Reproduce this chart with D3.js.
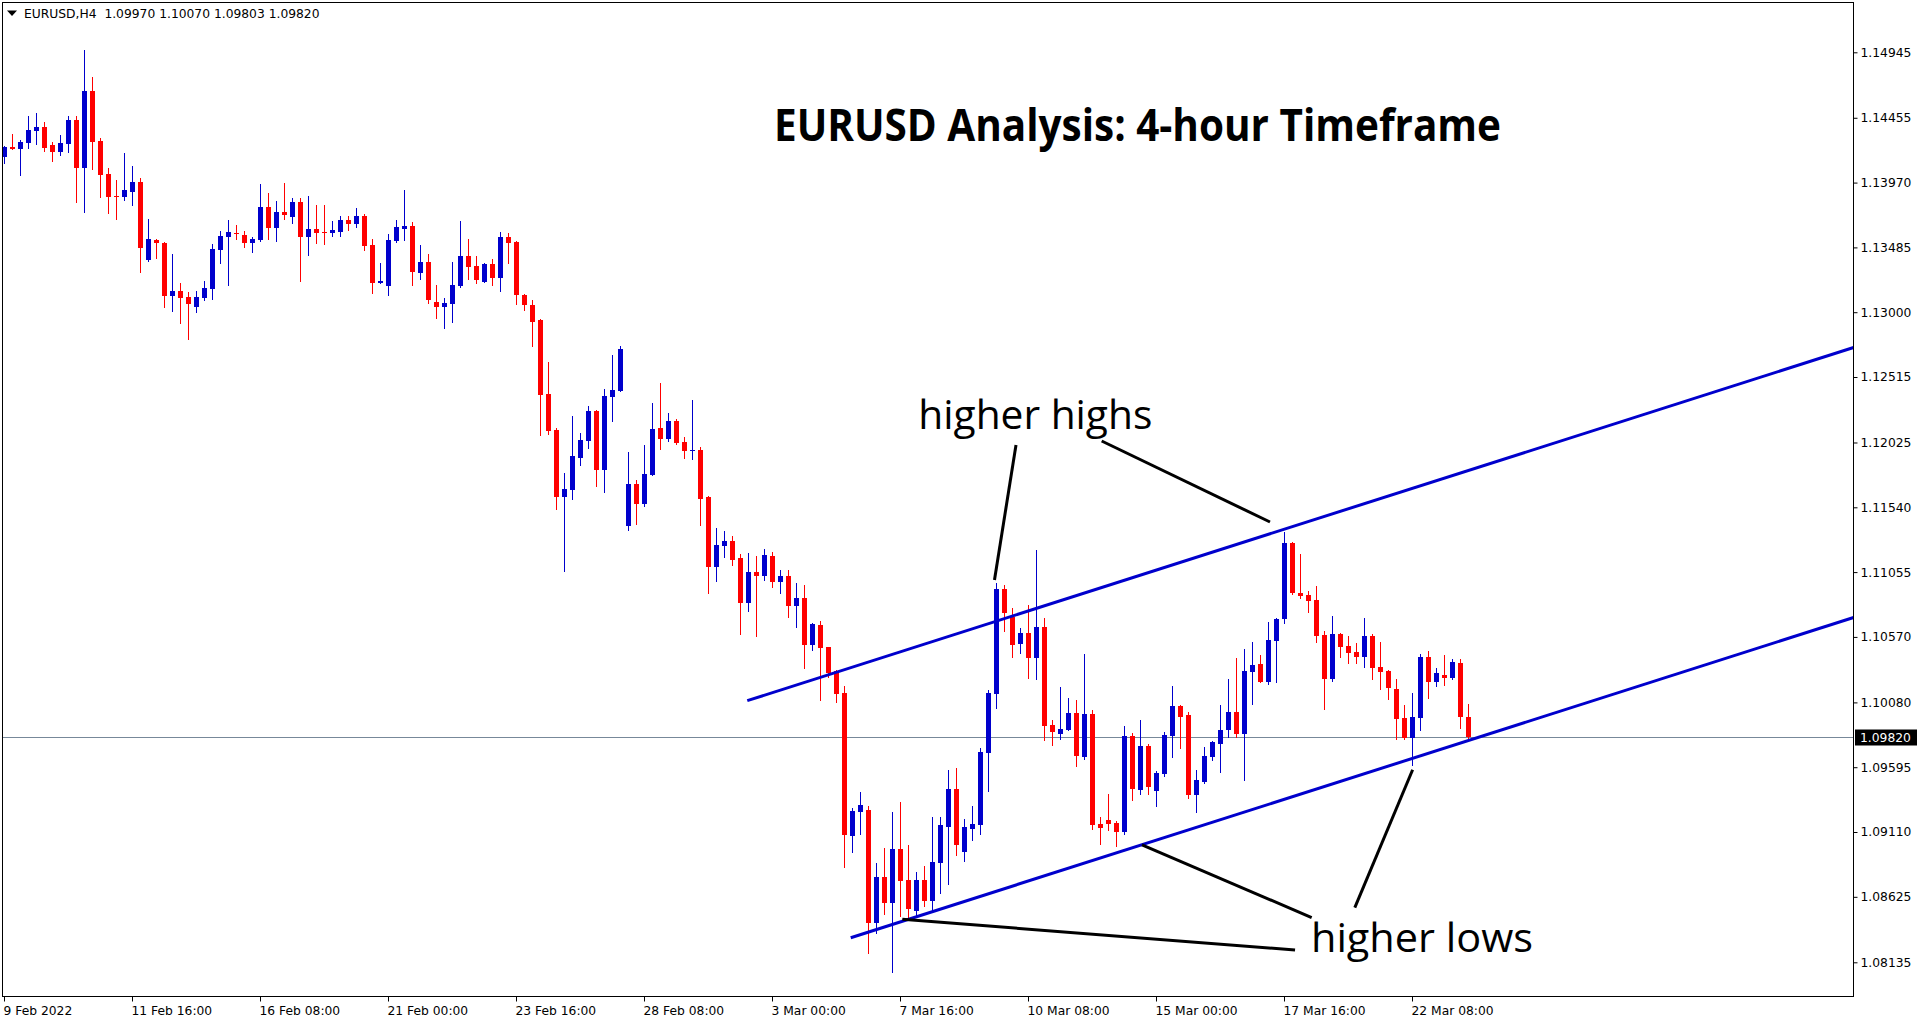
<!DOCTYPE html>
<html><head><meta charset="utf-8">
<script src="https://cdn.jsdelivr.net/npm/d3@7"></script>
<style>html,body{margin:0;padding:0;background:#fff;overflow:hidden}</style>
</head><body>
<svg id="chart" width="1925" height="1023"></svg>
<script>
// ---------- DATA ----------
const symbol = "EURUSD,H4";
const chartTitle = "EURUSD Analysis: 4-hour Timeframe";

const opens = [
1.14159,1.14236,1.14224,1.14269,1.14358,1.14386,1.14251,1.14201,1.14261,1.14438,
1.14081,1.14655,1.14281,1.14034,1.13870,1.13864,1.13902,1.13974,1.13393,1.13540,
1.13520,1.13124,1.13159,1.13114,1.13041,1.13109,1.13176,1.13468,1.13565,1.13593,
1.13578,1.13520,1.13540,1.13787,1.13632,1.13750,1.13715,1.13825,1.13565,1.13623,
1.13600,1.13595,1.13603,1.13690,1.13662,1.13720,1.13503,1.13221,1.13198,1.13533,
1.13625,1.13645,1.13296,1.13376,1.13076,1.13041,1.13064,1.13198,1.13421,1.13346,
1.13228,1.13361,1.13258,1.13563,1.13525,1.13129,1.13054,1.12942,1.12388,1.12118,
1.11619,1.11672,1.11911,1.12038,1.12261,1.11821,1.12368,1.12413,1.11402,1.11714,
1.11567,1.11784,1.12133,1.12053,1.12186,1.12029,1.11964,1.11969,1.11619,1.11096,
1.11253,1.11288,1.11161,1.10826,1.11056,1.11028,1.11176,1.10981,1.11026,1.10804,
1.10861,1.10512,1.10659,1.10495,1.10315,1.10150,1.09082,1.09262,1.09275,1.08431,
1.08773,1.08581,1.08983,1.08751,1.08521,1.08751,1.08596,1.08880,1.09150,1.09432,
1.08963,1.09135,1.09165,1.09704,1.10145,1.10929,1.10721,1.10519,1.10599,1.10414,
1.10644,1.09911,1.09846,1.09876,1.10001,1.09674,1.09993,1.09170,1.09200,1.09177,
1.09112,1.09829,1.09427,1.09754,1.09419,1.09546,1.09831,1.10053,1.09986,1.09389,
1.09487,1.09674,1.09771,1.09876,1.10008,1.09846,1.10310,1.10367,1.10235,1.10542,
1.10704,1.11273,1.10899,1.10884,1.10846,1.10584,1.10257,1.10592,1.10502,1.10457,
1.10422,1.10577,1.10347,1.10315,1.10180,1.09963,1.09816,1.09965,1.10420,1.10235,
1.10285,1.10265,1.10375,1.09970];

const highs = [
1.14244,1.14334,1.14289,1.14468,1.14491,1.14423,1.14274,1.14326,1.14468,1.14468,
1.14962,1.14760,1.14304,1.14079,1.13989,1.14191,1.14094,1.14004,1.13698,1.13548,
1.13528,1.13436,1.13219,1.13151,1.13159,1.13234,1.13510,1.13608,1.13690,1.13653,
1.13608,1.13563,1.13959,1.13892,1.13832,1.13967,1.13855,1.13855,1.13870,1.13802,
1.13802,1.13683,1.13720,1.13720,1.13780,1.13735,1.13548,1.13368,1.13585,1.13690,
1.13915,1.13675,1.13503,1.13436,1.13204,1.13106,1.13376,1.13683,1.13548,1.13421,
1.13368,1.13398,1.13600,1.13593,1.13530,1.13136,1.13091,1.12949,1.12627,1.12133,
1.11797,1.12223,1.12096,1.12298,1.12265,1.12425,1.12680,1.12747,1.11954,1.11744,
1.12006,1.12321,1.12470,1.12246,1.12201,1.12066,1.12343,1.11991,1.11627,1.11385,
1.11363,1.11325,1.11191,1.11198,1.11176,1.11228,1.11206,1.11071,1.11071,1.10974,
1.10959,1.10674,1.10689,1.10497,1.10322,1.10203,1.09290,1.09409,1.09305,1.08878,
1.08990,1.09260,1.09335,1.09013,1.08811,1.08856,1.09222,1.09222,1.09574,1.09589,
1.09207,1.09305,1.09739,1.10173,1.10970,1.10959,1.10786,1.10639,1.10809,1.11221,
1.10712,1.09948,1.10197,1.10113,1.10098,1.10442,1.10023,1.09222,1.09395,1.09192,
1.09903,1.09851,1.09948,1.09769,1.09567,1.09859,1.10203,1.10058,1.10008,1.09574,
1.09746,1.09791,1.10061,1.10255,1.10412,1.10480,1.10532,1.10435,1.10682,1.10712,
1.11355,1.11280,1.11191,1.10914,1.10951,1.10614,1.10727,1.10599,1.10577,1.10524,
1.10712,1.10592,1.10532,1.10322,1.10255,1.10061,1.10150,1.10442,1.10465,1.10337,
1.10435,1.10405,1.10405,1.10070];

const lows = [
1.14119,1.14224,1.14027,1.14231,1.14261,1.14206,1.14134,1.14179,1.14201,1.13827,
1.13752,1.14074,1.13864,1.13745,1.13700,1.13840,1.13805,1.13303,1.13385,1.13408,
1.13041,1.13011,1.12921,1.12802,1.13004,1.13094,1.13101,1.13370,1.13206,1.13550,
1.13490,1.13453,1.13533,1.13548,1.13533,1.13698,1.13670,1.13236,1.13428,1.13520,
1.13510,1.13573,1.13573,1.13615,1.13640,1.13466,1.13146,1.13221,1.13129,1.13525,
1.13540,1.13204,1.13249,1.13071,1.12959,1.12884,1.12929,1.13191,1.13251,1.13221,
1.13228,1.13206,1.13161,1.13370,1.13064,1.13019,1.12749,1.12083,1.12091,1.11530,
1.11066,1.11604,1.11859,1.11986,1.11702,1.11657,1.12188,1.12413,1.11372,1.11417,
1.11552,1.11784,1.11979,1.12038,1.12016,1.11911,1.11904,1.11410,1.10901,1.10991,
1.11170,1.11111,1.10594,1.10766,1.10579,1.10999,1.10946,1.10901,1.10721,1.10647,
1.10340,1.10474,1.10100,1.10272,1.10085,1.08850,1.08963,1.09097,1.08207,1.08357,
1.08499,1.08065,1.08484,1.08461,1.08491,1.08559,1.08521,1.08656,1.08723,1.08940,
1.08895,1.09053,1.09097,1.09419,1.10040,1.10617,1.10422,1.10452,1.10265,1.10257,
1.09801,1.09763,1.09808,1.09870,1.09606,1.09659,1.09135,1.09023,1.09127,1.09008,
1.09097,1.09352,1.09397,1.09397,1.09307,1.09531,1.09674,1.09741,1.09367,1.09262,
1.09479,1.09651,1.09561,1.09823,1.09823,1.09502,1.10070,1.10230,1.10220,1.10235,
1.10676,1.10893,1.10864,1.10759,1.10534,1.10033,1.10242,1.10422,1.10377,1.10377,
1.10347,1.10257,1.10182,1.10108,1.09808,1.09808,1.09612,1.09876,1.10115,1.10205,
1.10212,1.10257,1.09891,1.09803];

const closes = [
1.14239,1.14224,1.14274,1.14364,1.14386,1.14231,1.14201,1.14266,1.14438,1.14081,
1.14655,1.14277,1.14029,1.13864,1.13864,1.13915,1.13974,1.13483,1.13548,1.13520,
1.13124,1.13159,1.13109,1.13064,1.13114,1.13181,1.13473,1.13570,1.13600,1.13587,
1.13520,1.13546,1.13787,1.13632,1.13750,1.13730,1.13825,1.13565,1.13623,1.13595,
1.13595,1.13615,1.13690,1.13662,1.13720,1.13498,1.13221,1.13234,1.13540,1.13638,
1.13645,1.13303,1.13376,1.13094,1.13041,1.13069,1.13204,1.13421,1.13341,1.13244,
1.13361,1.13258,1.13563,1.13520,1.13131,1.13056,1.12929,1.12383,1.12113,1.11619,
1.11677,1.11924,1.12044,1.12261,1.11821,1.12373,1.12418,1.12725,1.11714,1.11567,
1.11789,1.12126,1.12053,1.12186,1.12023,1.11964,1.11969,1.11604,1.11096,1.11258,
1.11288,1.11148,1.10826,1.11056,1.11028,1.11183,1.10981,1.11026,1.10804,1.10861,
1.10512,1.10667,1.10489,1.10302,1.10145,1.09090,1.09267,1.09312,1.08431,1.08773,
1.08581,1.08983,1.08746,1.08536,1.08751,1.08596,1.08886,1.09163,1.09432,1.09015,
1.09148,1.09170,1.09709,1.10150,1.10929,1.10751,1.10512,1.10599,1.10414,1.10644,
1.09906,1.09861,1.09881,1.10001,1.09681,1.09993,1.09165,1.09142,1.09170,1.09112,
1.09829,1.09434,1.09754,1.09449,1.09552,1.09836,1.10053,1.09973,1.09389,1.09499,
1.09679,1.09784,1.09873,1.10008,1.09846,1.10315,1.10360,1.10235,1.10547,1.10704,
1.11273,1.10901,1.10878,1.10841,1.10579,1.10257,1.10592,1.10497,1.10452,1.10422,
1.10577,1.10340,1.10310,1.10190,1.09958,1.09816,1.09971,1.10420,1.10235,1.10300,
1.10265,1.10382,1.09973,1.09820];

const timeLabels = ["9 Feb 2022","11 Feb 16:00","16 Feb 08:00","21 Feb 00:00","23 Feb 16:00","28 Feb 08:00",
  "3 Mar 00:00","7 Mar 16:00","10 Mar 08:00","15 Mar 00:00","17 Mar 16:00","22 Mar 08:00"];
const barsPerTimeLabel = 16;

const priceTicks = [1.14945,1.14455,1.13970,1.13485,1.13000,1.12515,1.12025,1.11540,
  1.11055,1.10570,1.10080,1.09595,1.09110,1.08625,1.08135];

// channel lines (bar index, price)
const channelUpper = [{bar:92.91, price:1.10093},{bar:231.2, price:1.12736}];
const channelLower = [{bar:105.84, price:1.08319},{bar:231.2, price:1.10715}];

// annotation pointers (bar index, price)
const higherHighPointers = [
  [{bar:123.81, price:1.10996},{bar:126.5, price:1.12006}],
  [{bar:137.21, price:1.12036},{bar:158.25, price:1.11430}]
];
const higherLowPointers = [
  [{bar:112.29, price:1.08457},{bar:161.38, price:1.08227}],
  [{bar:142.25, price:1.09013},{bar:163.46, price:1.08470}],
  [{bar:176.08, price:1.09576},{bar:168.85, price:1.08544}]
];
const annotationTexts = [
  {text:"higher highs", bar:114.29, price:1.12124, anchor:"start", len:234},
  {text:"higher lows", bar:191.125, price:1.08212, anchor:"end", len:222}
];

// ---------- DRAW ----------
const svg = d3.select("#chart");
const W = 1925, H = 1023;
const plot = {left:2.5, top:2.5, right:1853.5, bottom:996.5};
const n = opens.length;
const bullColor = "#0000cc", bearColor = "#ff0000", lineBlue = "#0000cc";

const x = d3.scaleLinear().domain([0, n-1]).range([4, 4 + 8*(n-1)]);
const y = d3.scaleLinear().domain([1.08135, 1.14945]).range([962.3, 52.3]);

svg.append("rect").attr("width", W).attr("height", H).attr("fill", "#fff");

svg.append("defs").append("clipPath").attr("id","plotClip")
  .append("rect").attr("x", plot.left).attr("y", plot.top)
  .attr("width", plot.right-plot.left).attr("height", plot.bottom-plot.top);

const g = svg.append("g").attr("clip-path","url(#plotClip)");

// last price line
const lastClose = closes[n-1];
const yLast = Math.round(y(lastClose)) + 0.5;
g.append("line").attr("x1", plot.left).attr("x2", plot.right)
  .attr("y1", yLast).attr("y2", yLast).attr("stroke", "#778899").attr("stroke-width", 1);

// candles
const idx = d3.range(n);
const candles = g.append("g");
candles.selectAll("line.wick").data(idx).join("line")
  .attr("class","wick")
  .attr("x1", i => x(i)+0.5).attr("x2", i => x(i)+0.5)
  .attr("y1", i => Math.round(y(highs[i])))
  .attr("y2", i => Math.round(y(lows[i]))+1)
  .attr("stroke", i => closes[i] >= opens[i] ? bullColor : bearColor)
  .attr("stroke-width", 1);
candles.selectAll("rect.body").data(idx).join("rect")
  .attr("class","body")
  .attr("x", i => x(i)-2)
  .attr("width", 5)
  .attr("y", i => Math.round(y(Math.max(opens[i], closes[i]))))
  .attr("height", i => Math.max(1, Math.round(y(Math.min(opens[i], closes[i]))) - Math.round(y(Math.max(opens[i], closes[i])))))
  .attr("fill", i => closes[i] >= opens[i] ? bullColor : bearColor);

// channel lines
const line = d3.line().x(d => x(d.bar)).y(d => y(d.price));
[channelUpper, channelLower].forEach(pts => {
  g.append("path").attr("d", line(pts)).attr("fill","none")
    .attr("stroke", lineBlue).attr("stroke-width", 3);
});

// annotation pointers
higherHighPointers.concat(higherLowPointers).forEach(pts => {
  g.append("path").attr("d", line(pts)).attr("fill","none")
    .attr("stroke", "#000").attr("stroke-width", 3);
});

// annotation texts
annotationTexts.forEach(a => {
  g.append("text").attr("x", x(a.bar)).attr("y", y(a.price))
    .attr("text-anchor", a.anchor)
    .attr("font-family", "'Open Sans','Noto Sans',sans-serif")
    .attr("font-size", 40).attr("fill", "#000")
    .attr("textLength", a.len).attr("lengthAdjust", "spacingAndGlyphs")
    .text(a.text);
});

// title
svg.append("text").attr("x", 774).attr("y", 141)
  .attr("font-family", "'Open Sans','Noto Sans',sans-serif")
  .attr("font-weight", "bold").attr("font-size", 44).attr("fill", "#000")
  .attr("textLength", 727).attr("lengthAdjust", "spacingAndGlyphs")
  .text(chartTitle);

// frame
svg.append("rect").attr("x", plot.left).attr("y", plot.top)
  .attr("width", plot.right-plot.left).attr("height", plot.bottom-plot.top)
  .attr("fill","none").attr("stroke","#000").attr("stroke-width",1);

const axisFont = "'DejaVu Sans','Liberation Sans',sans-serif";

// price axis
const yAxis = d3.axisRight(y).tickValues(priceTicks).tickSize(4).tickPadding(3)
  .tickFormat(d3.format(".5f"));
const yg = svg.append("g").attr("transform", `translate(${plot.right},0)`).call(yAxis);
yg.select(".domain").remove();
yg.selectAll("text").attr("font-family", axisFont).attr("font-size", 12.3).attr("fill","#000");
yg.selectAll("line").attr("stroke","#000");

// time axis
const tickIdx = timeLabels.map((_, k) => k * barsPerTimeLabel);
const xAxis = d3.axisBottom(x).tickValues(tickIdx).tickSize(5).tickPadding(5)
  .tickFormat((d, k) => timeLabels[k]);
const xg = svg.append("g").attr("transform", `translate(0,${plot.bottom})`).call(xAxis);
xg.select(".domain").remove();
xg.selectAll("text").attr("font-family", axisFont).attr("font-size", 12.3)
  .attr("fill","#000").attr("text-anchor","start").attr("x", -1);
xg.selectAll("line").attr("stroke","#000");

// last price label
svg.append("rect").attr("x", 1855).attr("y", yLast - 8).attr("width", 62).attr("height", 16).attr("fill","#000");
svg.append("text").attr("x", 1860).attr("y", yLast).attr("dy","0.35em")
  .attr("font-family", axisFont).attr("font-size", 12.3).attr("fill","#fff")
  .text(d3.format(".5f")(lastClose));

// header
svg.append("path").attr("d","M7,10.5 L17,10.5 L12,16 Z").attr("fill","#000");
const f5 = d3.format(".5f");
svg.append("text").attr("x", 24).attr("y", 18)
  .attr("font-family", axisFont).attr("font-size", 12.3).attr("fill","#000")
  .style("white-space","pre")
  .text(`${symbol}  ${f5(opens[n-1])} ${f5(highs[n-1])} ${f5(lows[n-1])} ${f5(closes[n-1])}`);
</script>
</body></html>
